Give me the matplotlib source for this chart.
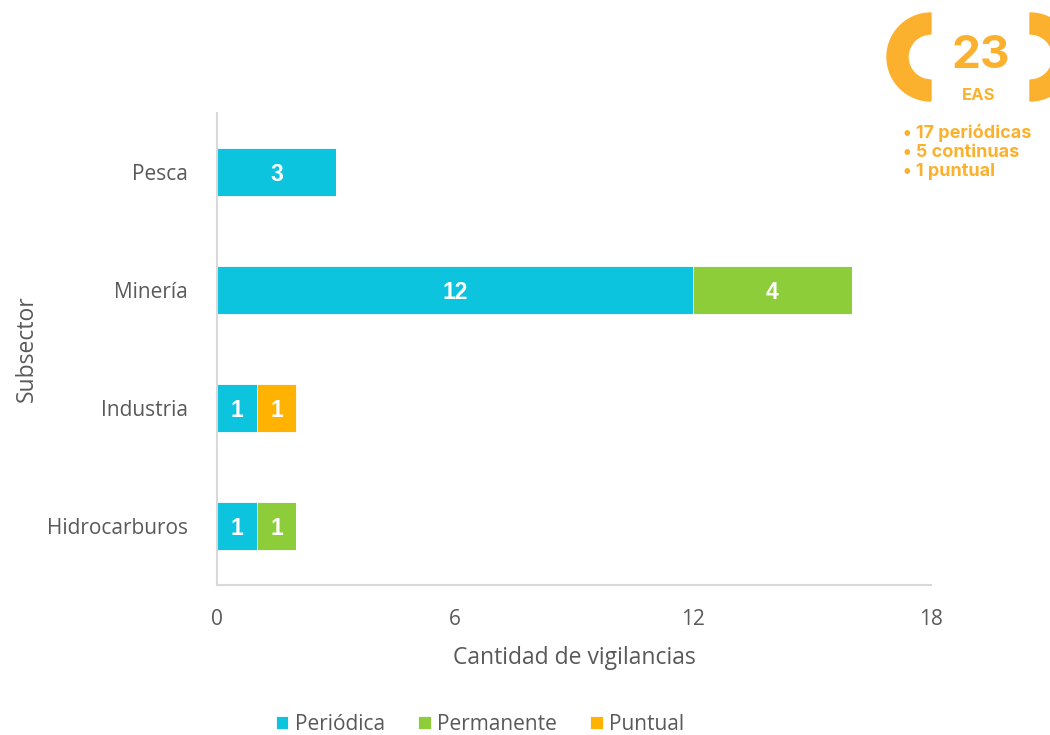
import matplotlib.pyplot as plt
from matplotlib.patches import Wedge

# datos
subsectores = ["Hidrocarburos", "Industria", "Minería", "Pesca"]
periodica = [1, 1, 12, 3]
permanente = [1, 0, 4, 0]
puntual = [0, 1, 0, 0]
series = ["Periódica", "Permanente", "Puntual"]
colores = ["#0DC4DF", "#8DCD3A", "#FFB300"]
xticks = [0, 6, 12, 18]

total_eas = "23"
resumen = ["• 17 periódicas", "• 5 continuas", "• 1 puntual"]
naranja = "#FBB12E"
gris = "#595959"

plt.rcParams["font.family"] = ["Open Sans", "DejaVu Sans"]

fig = plt.figure(figsize=(10.5, 7.35), dpi=100)
ax = fig.add_axes([217/1050, 1 - 585/735, 714/1050, 472/735])

y = range(len(subsectores))
left = [0] * len(subsectores)
for vals, name, col in zip([periodica, permanente, puntual], series, colores):
    bars = ax.barh(y, vals, left=left, height=0.4, color=col, edgecolor="white",
                   linewidth=0.6, label=name)
    for b, v in zip(bars, vals):
        if v > 0:
            ax.text(b.get_x() + b.get_width() / 2, b.get_y() + b.get_height() / 2, str(v),
                    ha="center", va="center_baseline", color="white", fontsize=16.5,
                    fontweight="bold", family="Liberation Sans")
    left = [l + v for l, v in zip(left, vals)]

ax.set_xlim(0, 18)
ax.set_ylim(-0.5, 3.5)
ax.set_xticks(xticks)
ax.set_yticks(list(y))
ax.set_yticklabels(subsectores)
ax.tick_params(length=0, labelsize=15, labelcolor=gris)
ax.tick_params(axis="y", pad=21)
ax.tick_params(axis="x", pad=17)
for s in ["top", "right"]:
    ax.spines[s].set_visible(False)
for s in ["left", "bottom"]:
    ax.spines[s].set_color("#D9D9D9")
    ax.spines[s].set_linewidth(1.5)
ax.set_xlabel("Cantidad de vigilancias", fontsize=16.5, color=gris, labelpad=12)
ax.set_ylabel("Subsector", fontsize=16.5, color=gris, labelpad=6)

fig.legend(loc="center", bbox_to_anchor=(480/1050, 1 - 724/735), ncol=3, frameon=False,
           fontsize=15, handlelength=0.6, handleheight=0.6, handletextpad=0.3,
           columnspacing=1.6, labelcolor=gris)

# insignia superior derecha
ov = fig.add_axes([0, 0, 1, 1])
ov.set_xlim(0, 1050)
ov.set_ylim(735, 0)
ov.axis("off")
ov.add_patch(Wedge((931, 57), 44, 90, 270, width=21, color=naranja))
ov.add_patch(Wedge((1030, 57), 44, -90, 90, width=21, color=naranja))
ov.text(981, 56, total_eas, ha="center", va="center", fontsize=33, fontweight="bold",
        color=naranja, family="Inter")
ov.text(979, 95, "EAS", ha="center", va="center", fontsize=12, fontweight="bold",
        color=naranja, family="Inter")
for i, t in enumerate(resumen):
    ov.text(903, 133 + i * 19, t, ha="left", va="center", fontsize=13,
            fontweight="bold", color=naranja, family="Inter")

fig.savefig("out.png", dpi=100)
